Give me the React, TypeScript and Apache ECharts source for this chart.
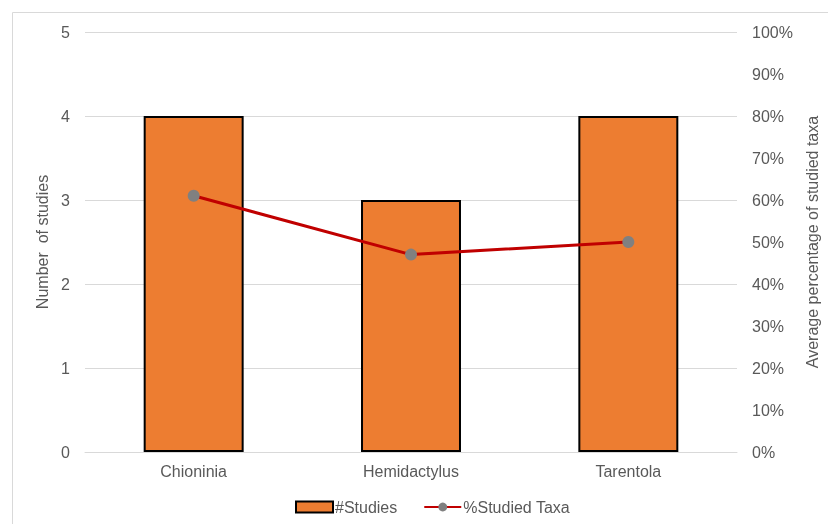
import React, { useEffect, useRef } from "react";
import * as echarts from "echarts";

const categories = ["Chioninia", "Hemidactylus", "Tarentola"];
const studies = [4, 3, 4];
const studiedTaxa = [61, 47, 50];

export default function App() {
  const ref = useRef<HTMLDivElement>(null);
  useEffect(() => {
    const chart = echarts.init(ref.current!, null, { renderer: "svg", width: 828, height: 524 });
    const font = "Liberation Sans, Arial, sans-serif";
    const txt = { color: "#595959", fontSize: 16, fontFamily: font };
    chart.setOption({
      animation: false,
      textStyle: { fontFamily: font },
      graphic: [
        {
          type: "rect",
          shape: { x: 12.5, y: 12.5, width: 830, height: 530 },
          style: { fill: "none", stroke: "#d9d9d9", lineWidth: 1 },
          silent: true,
        },
      ],
      grid: { left: 85, right: 83, top: 32, bottom: 72 },
      legend: {
        bottom: 4,
        left: 290,
        itemGap: 26,
        itemWidth: 37,
        itemHeight: 11,
        textStyle: { ...txt, padding: [0, 0, 0, -3] },
        data: [
          { name: "#Studies", icon: "rect", itemStyle: { color: "#ED7D31", borderColor: "#000", borderWidth: 2 } },
          { name: "%Studied Taxa" },
        ],
      },
      xAxis: {
        type: "category",
        data: categories,
        axisLine: { show: true, lineStyle: { color: "#d9d9d9" } },
        axisTick: { show: false },
        axisLabel: { ...txt, margin: 11 },
      },
      yAxis: [
        {
          type: "value",
          min: 0,
          max: 5,
          interval: 1,
          name: "Number  of studies",
          nameLocation: "middle",
          nameGap: 31,
          nameTextStyle: { ...txt },
          axisLabel: { ...txt, margin: 15 },
          splitLine: { lineStyle: { color: "#d9d9d9", width: 1 } },
          axisLine: { show: false },
        },
        {
          type: "value",
          min: 0,
          max: 100,
          interval: 10,
          name: "Average percentage of studied taxa",
          nameLocation: "middle",
          nameGap: 67,
          nameRotate: 90,
          nameTextStyle: { ...txt },
          axisLabel: { ...txt, margin: 15, formatter: "{value}%" },
          splitLine: { show: false },
          axisLine: { show: false },
        },
      ],
      series: [
        {
          name: "#Studies",
          type: "bar",
          data: studies,
          barWidth: "46%",
          itemStyle: { color: "#ED7D31", borderColor: "#000", borderWidth: 2 },
        },
        {
          name: "%Studied Taxa",
          type: "line",
          yAxisIndex: 1,
          data: studiedTaxa,
          symbol: "circle",
          symbolSize: 12,
          lineStyle: { color: "#C00000", width: 3 },
          itemStyle: { color: "#808080" },
        },
      ],
    });
    return () => chart.dispose();
  }, []);
  return (
    <div
      ref={ref}
      style={{ position: "fixed", left: 0, top: 0, width: 828, height: 524, overflow: "hidden" }}
    />
  );
}
